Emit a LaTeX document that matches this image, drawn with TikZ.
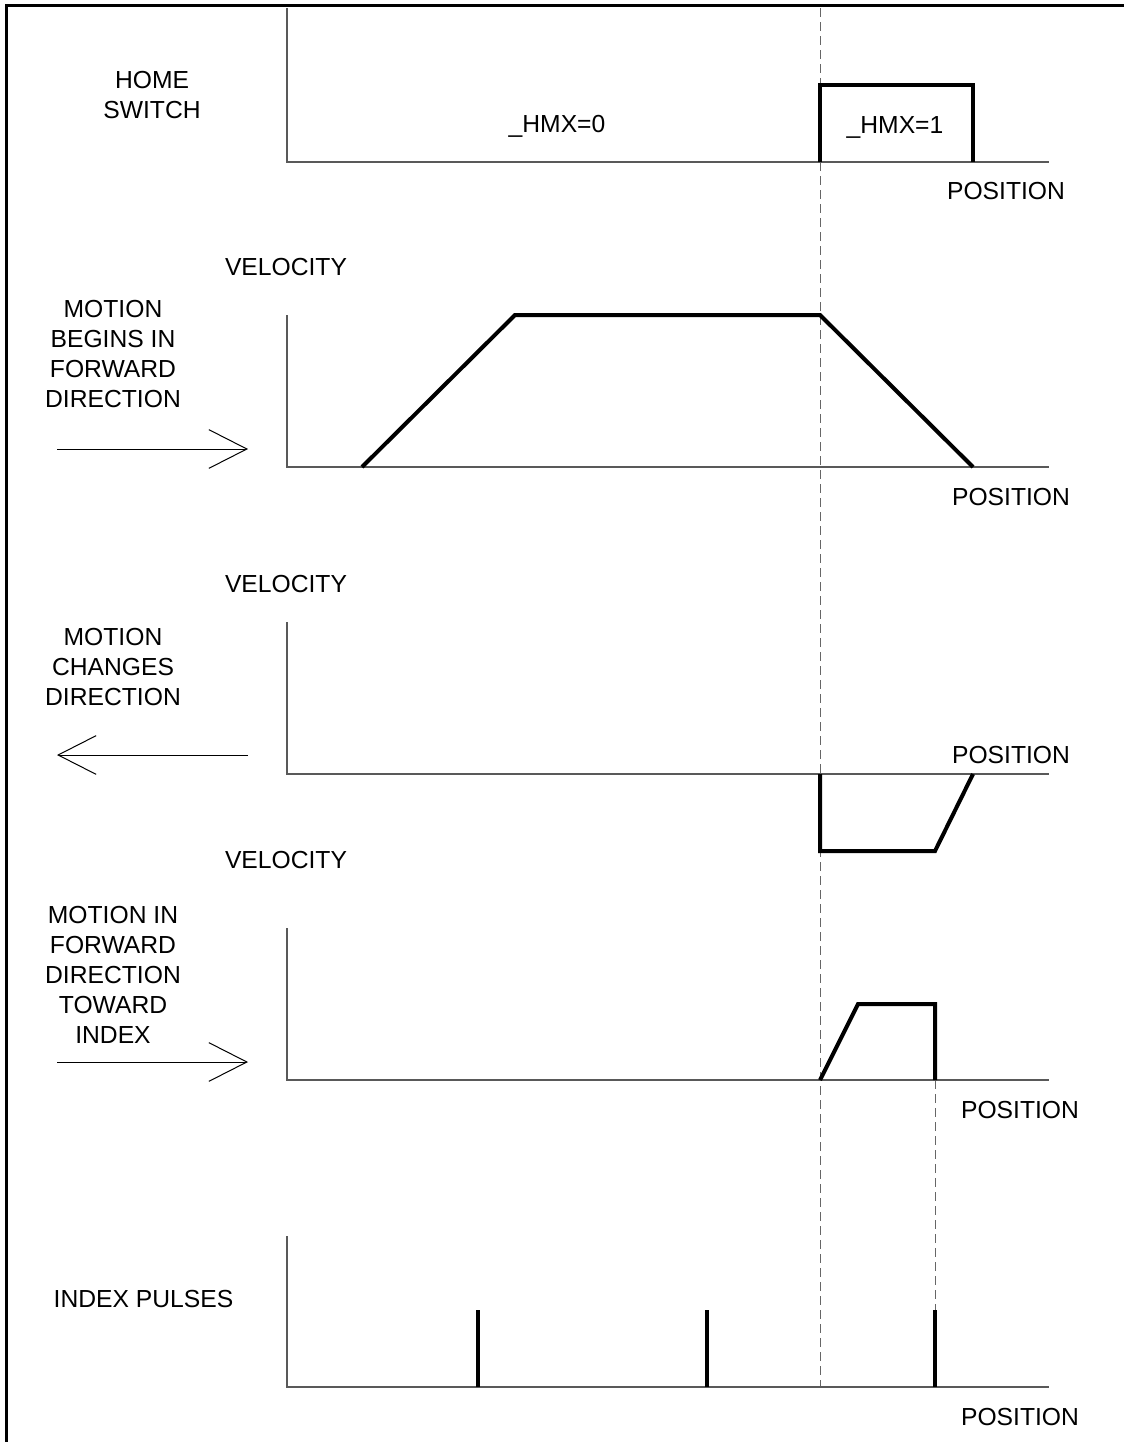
\documentclass[tikz,border=0pt]{standalone}
\usepackage{fontspec}
\setmainfont{Liberation Sans}
\usetikzlibrary{arrows.meta}
\begin{document}
\begin{tikzpicture}[x=0.75pt,y=-0.75pt,
  lbl/.style={inner sep=0pt, anchor=base, font=\fontsize{18.5}{22.5}\selectfont, align=center},
  axisline/.style={draw=black!65, line width=1.1pt},
  prof/.style={line width=3pt, line join=miter},
  guide/.style={draw=black!60, line width=0.6pt, dash pattern=on 6.75pt off 3.75pt},
  dirarrow/.style={line width=0.75pt, -{Straight Barb[length=28.5pt,width=29pt,line width=0.75pt]}},
  frame/.style={line width=2.3pt}]
\useasboundingbox (0,0) rectangle (1124,1442);
% frame
\draw[frame] (6.5,1442) -- (6.5,5.5) -- (1124,5.5);
% guides
\draw[guide] (820,8) -- (820,1387);
\draw[guide] (935,1080) -- (935,1387);
% panel 1: home switch
\draw[axisline] (287,8) -- (287,162) -- (1049,162);
\draw[prof] (820,162) -- (820,85) -- (973,85) -- (973,162);
\node[lbl] (home) at (152,118) {HOME\\SWITCH};
\node[lbl] (hmx0) at (557,132) {\_HMX=0};
\node[lbl] (hmx1) at (895,133) {\_HMX=1};
\node[lbl] (pos1) at (1006,199) {POSITION};
% panel 2
\draw[axisline] (287,315) -- (287,467) -- (1049,467);
\draw[prof] (362,467) -- (515,315) -- (820,315) -- (973,467);
\node[lbl] (vel1) at (286,275) {VELOCITY};
\node[lbl] (mot1) at (113,407) {MOTION\\BEGINS IN\\FORWARD\\DIRECTION};
\node[lbl] (pos2) at (1011,505) {POSITION};
\coordinate (a1s) at (57,449);
\coordinate (a1e) at (248,449);
\draw[dirarrow] (a1s) -- (a1e);
% panel 3
\draw[axisline] (287,622) -- (287,774) -- (1049,774);
\draw[prof] (820,774) -- (820,851) -- (935,851) -- (973,774);
\node[lbl] (vel2) at (286,592) {VELOCITY};
\node[lbl] (mot2) at (113,705) {MOTION\\CHANGES\\DIRECTION};
\node[lbl] (pos3) at (1011,763) {POSITION};
\coordinate (a2s) at (248,755);
\coordinate (a2e) at (57,755);
\draw[dirarrow] (a2s) -- (a2e);
% panel 4
\draw[axisline] (287,928) -- (287,1080) -- (1049,1080);
\draw[prof] (820,1080) -- (858,1004) -- (935,1004) -- (935,1080);
\node[lbl] (vel3) at (286,868) {VELOCITY};
\node[lbl] (mot3) at (113,1043) {MOTION IN\\FORWARD\\DIRECTION\\TOWARD\\INDEX};
\node[lbl] (pos4) at (1020,1118) {POSITION};
\coordinate (a3s) at (57,1062);
\coordinate (a3e) at (248,1062);
\draw[dirarrow] (a3s) -- (a3e);
% panel 5
\draw[axisline] (287,1236) -- (287,1387) -- (1049,1387);
\draw[prof] (478,1310) -- (478,1387);
\draw[prof] (707,1310) -- (707,1387);
\draw[prof] (935,1310) -- (935,1387);
\node[lbl] (idx) at (143.5,1307) {INDEX PULSES};
\node[lbl] (pos5) at (1020,1425) {POSITION};
\end{tikzpicture}
\end{document}
